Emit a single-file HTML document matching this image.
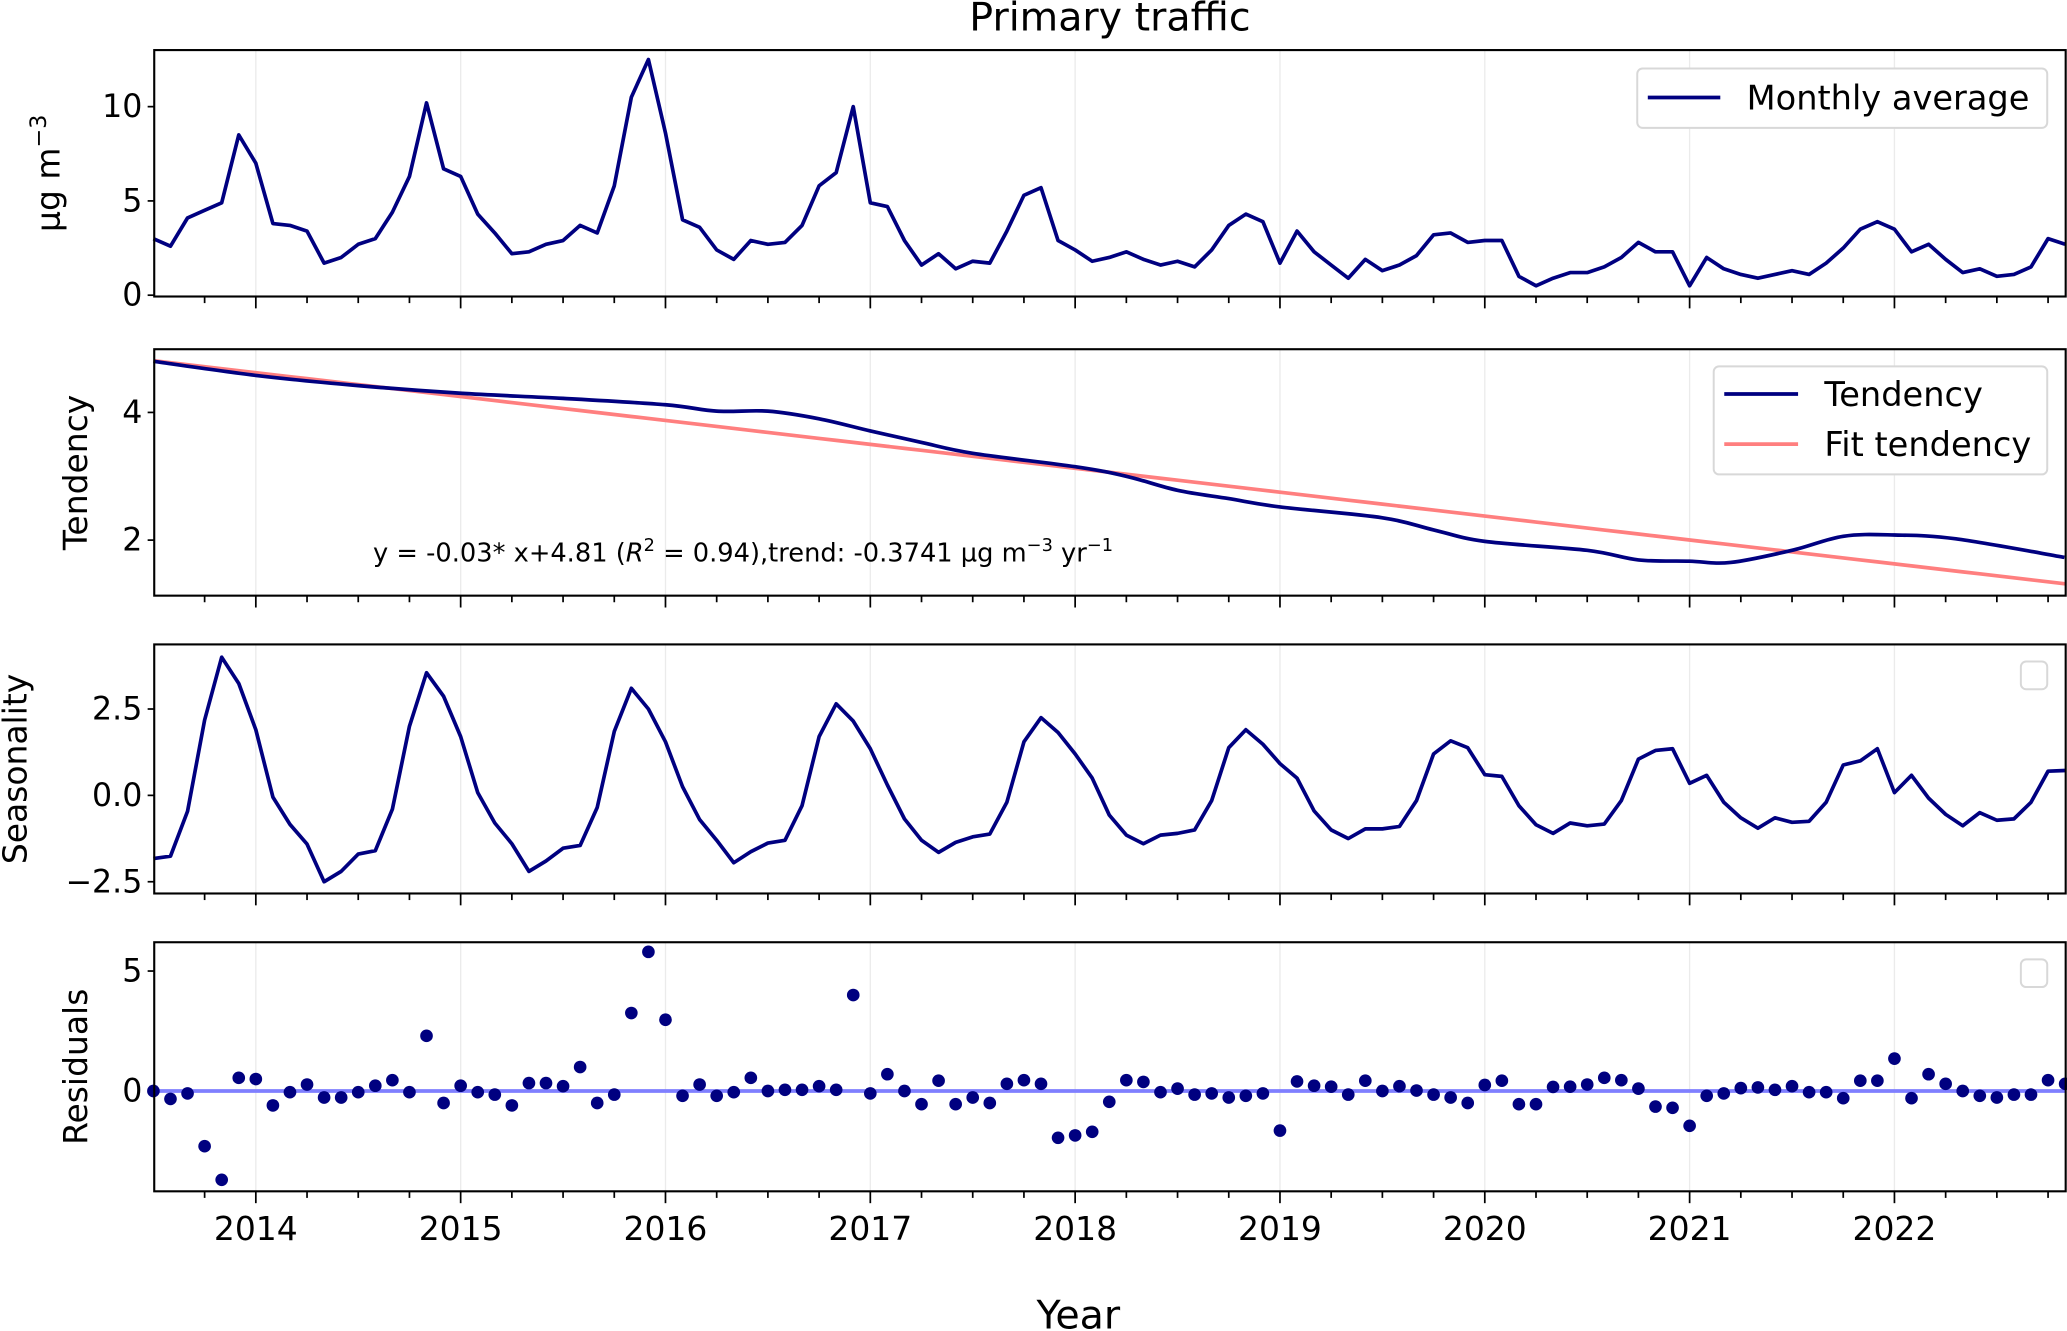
<!DOCTYPE html>
<html><head><meta charset="utf-8"><style>
html,body{margin:0;padding:0;background:#fff;}
svg{display:block;font-family:"DejaVu Sans","Liberation Sans",sans-serif;}
</style></head><body>
<svg id="fig" width="2067" height="1331" viewBox="0 0 1568 1010" preserveAspectRatio="none" xmlns="http://www.w3.org/2000/svg">
<text x="842" y="23" font-size="30" text-anchor="middle">Primary traffic</text>
<text x="818" y="1008" font-size="30" text-anchor="middle">Year</text>
</svg>
<script>
const startYear = 2013.5;
const monthly = [3.0,2.6,4.1,4.5,4.9,8.5,7.0,3.8,3.7,3.4,1.7,2.0,2.7,3.0,4.4,6.3,10.2,6.7,6.3,4.3,3.3,2.2,2.3,2.7,2.9,3.7,3.3,5.8,10.5,12.5,8.6,4.0,3.6,2.4,1.9,2.9,2.7,2.8,3.7,5.8,6.5,10.0,4.9,4.7,2.9,1.6,2.2,1.4,1.8,1.7,3.4,5.3,5.7,2.9,2.4,1.8,2.0,2.3,1.9,1.6,1.8,1.5,2.4,3.7,4.3,3.9,1.7,3.4,2.3,1.6,0.9,1.9,1.3,1.6,2.1,3.2,3.3,2.8,2.9,2.9,1.0,0.5,0.9,1.2,1.2,1.5,2.0,2.8,2.3,2.3,0.5,2.0,1.4,1.1,0.9,1.1,1.3,1.1,1.7,2.5,3.5,3.9,3.5,2.3,2.7,1.9,1.2,1.4,1.0,1.1,1.5,3.0,2.7];
const tendYears = [2013.5,2014.0,2014.5,2015.0,2015.5,2016.0,2016.25,2016.5,2016.75,2017.0,2017.25,2017.5,2018.0,2018.25,2018.5,2018.75,2019.0,2019.5,2019.75,2020.0,2020.5,2020.75,2021.0,2021.2,2021.5,2021.75,2022.0,2022.3,2022.83];
const tendValues = [4.80,4.58,4.42,4.30,4.22,4.12,4.02,4.02,3.90,3.71,3.53,3.36,3.15,3.00,2.78,2.65,2.52,2.35,2.16,1.98,1.84,1.69,1.67,1.65,1.84,2.06,2.08,2.02,1.73];
const fitSlope = -0.0312;
const fitIntercept = 4.81;
const seasonal = [-1.83,-1.76,-0.46,2.18,4.0,3.24,1.9,-0.05,-0.84,-1.41,-2.5,-2.2,-1.7,-1.6,-0.4,2.0,3.55,2.87,1.7,0.08,-0.8,-1.4,-2.2,-1.9,-1.53,-1.45,-0.35,1.85,3.1,2.5,1.55,0.25,-0.7,-1.3,-1.95,-1.63,-1.38,-1.3,-0.3,1.7,2.65,2.15,1.35,0.3,-0.68,-1.3,-1.65,-1.36,-1.2,-1.12,-0.2,1.55,2.25,1.82,1.2,0.5,-0.57,-1.15,-1.4,-1.15,-1.1,-1.0,-0.15,1.38,1.9,1.48,0.92,0.5,-0.45,-1.0,-1.25,-0.97,-0.97,-0.9,-0.15,1.2,1.58,1.38,0.6,0.55,-0.3,-0.85,-1.1,-0.8,-0.88,-0.83,-0.15,1.05,1.3,1.35,0.35,0.58,-0.2,-0.65,-0.95,-0.65,-0.78,-0.75,-0.2,0.88,1.0,1.35,0.08,0.58,-0.08,-0.55,-0.88,-0.5,-0.72,-0.68,-0.2,0.7,0.72];
const resid = [0,-0.33,-0.1,-2.3,-3.7,0.55,0.5,-0.6,-0.05,0.27,-0.27,-0.27,-0.05,0.22,0.45,-0.05,2.3,-0.5,0.22,-0.05,-0.15,-0.6,0.33,0.33,0.2,1.0,-0.5,-0.15,3.25,5.8,2.97,-0.2,0.27,-0.2,-0.05,0.55,0,0.05,0.05,0.2,0.05,4.0,-0.1,0.7,0,-0.55,0.43,-0.55,-0.27,-0.5,0.3,0.45,0.3,-1.95,-1.85,-1.7,-0.45,0.45,0.38,-0.05,0.1,-0.15,-0.1,-0.27,-0.2,-0.1,-1.65,0.4,0.22,0.18,-0.15,0.43,0,0.2,0.02,-0.15,-0.27,-0.5,0.25,0.43,-0.55,-0.55,0.17,0.18,0.27,0.55,0.45,0.1,-0.65,-0.7,-1.45,-0.2,-0.1,0.12,0.15,0.05,0.2,-0.05,-0.05,-0.3,0.43,0.43,1.35,-0.3,0.7,0.3,0,-0.2,-0.27,-0.15,-0.15,0.45,0.3];
const yearTicks = [2014,2015,2016,2017,2018,2019,2020,2021,2022];
const p1Ticks = [0,5,10], p1Labels = ["0","5","10"];
const p2Ticks = [2,4], p2Labels = ["2","4"];
const p3Ticks = [-2.5,0,2.5], p3Labels = ["\u22122.5","0.0","2.5"];
const p4Ticks = [0,5], p4Labels = ["0","5"];

const NS = "http://www.w3.org/2000/svg";
const svg = document.getElementById('fig');
const X0 = 117, X1 = 1567, XMIN = 2013.504, XMAX = 2022.836;
const xs = t => X0 + (t - XMIN) / (XMAX - XMIN) * (X1 - X0);
const mYear = i => startYear + i / 12;
function el(tag, attrs, parent) {
  const e = document.createElementNS(NS, tag);
  for (const k in attrs) e.setAttribute(k, attrs[k]);
  (parent || svg).appendChild(e);
  return e;
}
function panel(name, top, bot, vmin, vmax, ticks, labels, ylabel, ylx) {
  const g = el('g', {});
  
  
  const ys = v => bot - (v - vmin) / (vmax - vmin) * (bot - top);
  yearTicks.forEach(y => {
    const gl = el('line', {x1: xs(y), x2: xs(y), y1: top, y2: bot, stroke: '#ebebeb', 'stroke-width': 1}, g);
    
    
  });
  for (let q = 2013.75; q <= XMAX + 0.001; q += 0.25) {
    const major = Math.abs(q - Math.round(q)) < 0.01;
    const tk = el('line', {x1: xs(q), x2: xs(q), y1: bot, y2: bot + (major ? 9 : 5), stroke: '#000', 'stroke-width': 1.3}, g);
    
    
  }
  ticks.forEach((v, i) => {
    const tk = el('line', {x1: X0 - 5, x2: X0, y1: ys(v), y2: ys(v), stroke: '#000', 'stroke-width': 1.3}, g);
    
    
    const t = el('text', {x: X0 - 9, y: ys(v) + 8, 'font-size': 24, 'text-anchor': 'end'}, g);
    t.textContent = labels[i];
    
    
  });
  const yl = el('text', {x: 0, y: 0, 'font-size': 25, 'text-anchor': 'middle', transform: `translate(${ylx},${(top + bot) / 2}) rotate(-90)`}, g);
  yl.innerHTML = ylabel;
  
  
  return {g, ys, top, bot};
}
function frame(p) {
  const r = el('rect', {x: X0, y: p.top, width: X1 - X0, height: p.bot - p.top, fill: 'none', stroke: '#000', 'stroke-width': 1.6}, p.g);
  
  
}
function line(p, xsArr, vals, color, w, name, smooth) {
  const pts = vals.map((v, i) => [xs(xsArr[i]), p.ys(v)]);
  let d = 'M' + pts[0][0].toFixed(2) + ',' + pts[0][1].toFixed(2);
  for (let i = 1; i < pts.length; i++) {
    if (smooth) {
      const p0 = pts[Math.max(0, i - 2)], p1 = pts[i - 1], p2 = pts[i], p3 = pts[Math.min(pts.length - 1, i + 1)];
      const c1 = [p1[0] + (p2[0] - p0[0]) / 6, p1[1] + (p2[1] - p0[1]) / 6];
      const c2 = [p2[0] - (p3[0] - p1[0]) / 6, p2[1] - (p3[1] - p1[1]) / 6];
      d += 'C' + c1.map(n => n.toFixed(2)).join(',') + ' ' + c2.map(n => n.toFixed(2)).join(',') + ' ' + p2[0].toFixed(2) + ',' + p2[1].toFixed(2);
    } else d += 'L' + pts[i][0].toFixed(2) + ',' + pts[i][1].toFixed(2);
  }
  const pa = el('path', {d, fill: 'none', stroke: color, 'stroke-width': w, 'stroke-linejoin': 'round'}, p.g);
  
  
}
const monthsX = monthly.map((_, i) => mYear(i));

// Panel 1
const p1 = panel('monthly-average', 38, 225, -0.07, 13.0, p1Ticks, p1Labels, 'µg m<tspan font-size="17" dy="-10">−3</tspan>', 45);
line(p1, monthsX, monthly, '#000080', 2.8, 'monthly-average-line');
frame(p1);
const lg1 = el('g', {}, p1.g);


el('rect', {x: 1242, y: 52, width: 311, height: 45, rx: 4, fill: '#fff', stroke: '#d8d8d8', 'stroke-width': 1.5}, lg1);
el('line', {x1: 1250, x2: 1305, y1: 74, y2: 74, stroke: '#000080', 'stroke-width': 2.8}, lg1);
const t1 = el('text', {x: 1325, y: 83, 'font-size': 25.5}, lg1); t1.textContent = 'Monthly average';

// Panel 2
const p2 = panel('tendency', 265, 452, 1.13, 4.99, p2Ticks, p2Labels, 'Tendency', 66);
const fitVals = monthly.map((_, i) => fitIntercept + fitSlope * i);
line(p2, monthsX, fitVals, '#ff7f7f', 2.8, 'fit-tendency-line');
line(p2, tendYears, tendValues, '#000080', 2.8, 'tendency-line', true);
frame(p2);
const lg2 = el('g', {}, p2.g);


el('rect', {x: 1300, y: 278, width: 253, height: 82, rx: 4, fill: '#fff', stroke: '#d8d8d8', 'stroke-width': 1.5}, lg2);
el('line', {x1: 1308, x2: 1364, y1: 299, y2: 299, stroke: '#000080', 'stroke-width': 2.8}, lg2);
el('line', {x1: 1308, x2: 1364, y1: 337, y2: 337, stroke: '#ff7f7f', 'stroke-width': 2.8}, lg2);
const t2 = el('text', {x: 1384, y: 308, 'font-size': 25.5}, lg2); t2.textContent = 'Tendency';
const t3 = el('text', {x: 1384, y: 346, 'font-size': 25.5}, lg2); t3.textContent = 'Fit tendency';
const eq = el('text', {x: 283, y: 426, 'font-size': 19.5}, p2.g);
eq.innerHTML = 'y = -0.03* x+4.81 (<tspan font-style="italic">R</tspan><tspan font-size="13.5" dy="-8">2</tspan><tspan dy="8"> = 0.94),trend: -0.3741 µg m</tspan><tspan font-size="13.5" dy="-8">−3</tspan><tspan dy="8"> yr</tspan><tspan font-size="13.5" dy="-8">−1</tspan>';



// Panel 3
const p3 = panel('seasonality', 489, 678, -2.84, 4.37, p3Ticks, p3Labels, 'Seasonality', 20);
line(p3, monthsX, seasonal, '#000080', 2.8, 'seasonality-line');
frame(p3);
const e3 = el('rect', {x: 1533, y: 502, width: 20, height: 21, rx: 4, fill: '#fff', stroke: '#d8d8d8', 'stroke-width': 1.5}, p3.g);



// Panel 4
const p4 = panel('residuals', 715, 904, -4.18, 6.2, p4Ticks, p4Labels, 'Residuals', 66);
const zl = el('line', {x1: X0, x2: X1, y1: p4.ys(0), y2: p4.ys(0), stroke: '#7f7fff', 'stroke-width': 2.8}, p4.g);


resid.forEach((v, i) => {
  const c = el('circle', {cx: xs(mYear(i)), cy: p4.ys(v), r: 4.8, fill: '#000080'}, p4.g);
  
  
});
frame(p4);
const e4 = el('rect', {x: 1533, y: 728, width: 20, height: 21, rx: 4, fill: '#fff', stroke: '#d8d8d8', 'stroke-width': 1.5}, p4.g);


yearTicks.forEach(y => {
  const t = el('text', {x: xs(y), y: 941, 'font-size': 25, 'text-anchor': 'middle'});
  t.textContent = y;
  
  
});
</script>
</body></html>
